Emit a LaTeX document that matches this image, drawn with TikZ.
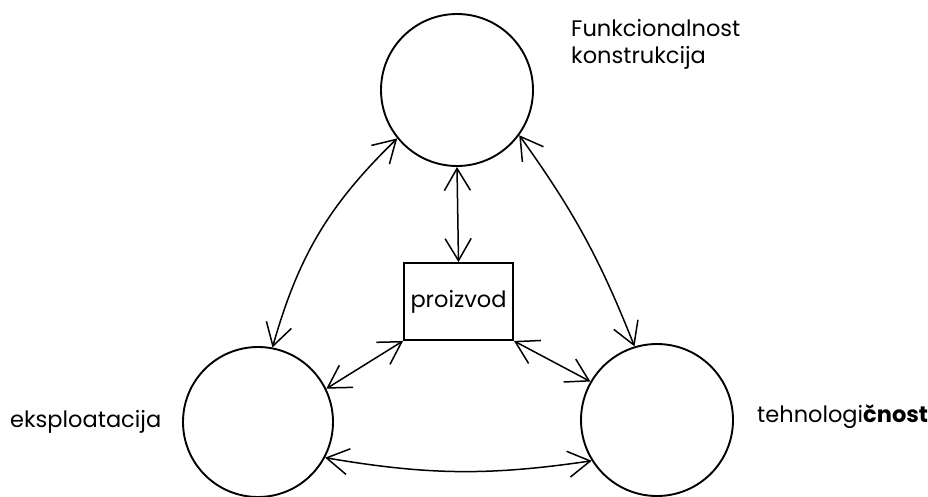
\documentclass[tikz,border=0pt]{standalone}
\usepackage{fontspec}
\setmainfont{Poppins}
\usetikzlibrary{arrows.meta}
\begin{document}
\begin{tikzpicture}[x=1pt,y=-1pt,
  ring/.style={circle,draw,line width=1.9pt,inner sep=0pt,minimum size=#1},
  boxnode/.style={rectangle,draw,line width=1.9pt,inner sep=0pt,minimum width=109pt,minimum height=77pt,font=\fontsize{22.5}{24}\selectfont},
  lbl/.style={inner sep=0pt,anchor=base west,font=\fontsize{22.5}{27}\selectfont},
  tip/.style={Straight Barb[length=22pt,width=26pt,line width=1.5pt]},
  link/.style={line width=1.5pt,{Straight Barb[length=22pt,width=26pt,line width=1.5pt]}-{Straight Barb[length=22pt,width=26pt,line width=1.5pt]}}]
\useasboundingbox (0,0) rectangle (928,496);
\node[ring=152pt] (top) at (457,90) {};
\node[ring=150pt] (bl) at (258,422) {};
\node[ring=152pt] (br) at (657,420) {};
\node[boxnode] (box) at (458.5,301.5) {\raisebox{5pt}{proizvod}};
\node[lbl] (fk1) at (571,36) {Funkcionalnost};
\node[lbl] (fk2) at (571,63) {konstrukcija};
\node[lbl] (ek) at (10,427) {eksploatacija};
\node[lbl] (th) at (757,422) {tehnologi\textbf{čnost}};
\draw[link] (top.south) -- (box.north);
\draw[link] (top.219) to[bend right=15] (bl.79);
\draw[link] (top.324) to[bend left=7] (br.107);
\draw[link] (box.south west) -- (bl.26);
\draw[link] (box.south east) -- (br.150);
\draw[link] (bl.332) to[bend right=9] (br.212);
\end{tikzpicture}
\end{document}
